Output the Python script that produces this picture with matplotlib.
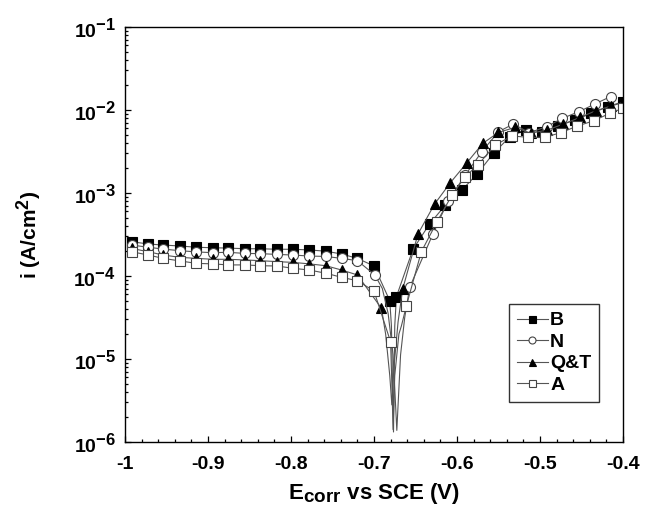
import numpy as np
import matplotlib
matplotlib.use("Agg")
import matplotlib.pyplot as plt
from matplotlib.ticker import FixedLocator, LogLocator, NullFormatter
try:
    import matplotlib._mathtext as _mt
    _mt.SHRINK_FACTOR = 0.85   # larger super/subscripts, as in the original figure
except Exception:
    pass

plt.rcParams['font.family'] = ['Liberation Sans', 'DejaVu Sans']
plt.rcParams['font.weight'] = 'bold'
plt.rcParams['mathtext.fontset'] = 'custom'
plt.rcParams['mathtext.rm'] = 'Liberation Sans:bold'
plt.rcParams['mathtext.bf'] = 'Liberation Sans:bold'
plt.rcParams['mathtext.it'] = 'Liberation Sans:bold'
plt.rcParams['mathtext.default'] = 'bf'

# ---------------- data (E in V vs SCE, i in A/cm^2) ----------------
labels = ["B", "N", "Q&T", "A"]

# B : marker points
B_E = [-0.992, -0.972, -0.954, -0.934, -0.914, -0.894, -0.876, -0.855, -0.837, -0.817,
       -0.798, -0.778, -0.758, -0.739, -0.720, -0.700, -0.681, -0.673, -0.653, -0.633,
       -0.614, -0.594, -0.576, -0.556, -0.536, -0.517, -0.498, -0.478, -0.458, -0.438,
       -0.418, -0.400]
B_i = [2.59e-4, 2.43e-4, 2.36e-4, 2.30e-4, 2.22e-4, 2.19e-4, 2.17e-4, 2.13e-4, 2.13e-4, 2.10e-4,
       2.10e-4, 2.06e-4, 1.99e-4, 1.84e-4, 1.63e-4, 1.32e-4, 5.04e-5, 5.64e-5, 2.10e-4, 4.24e-4,
       7.16e-4, 1.09e-3, 1.68e-3, 3.01e-3, 4.79e-3, 5.74e-3, 5.48e-3, 6.41e-3, 7.59e-3, 9.12e-3,
       1.10e-2, 1.26e-2]
# B : extra line points through the corrosion-potential dip
B_dip_E = [-0.679, -0.6765, -0.675]
B_dip_i = [2.5e-5, 1.32e-6, 2.5e-5]

# N
N_E = [-0.992, -0.972, -0.954, -0.934, -0.914, -0.894, -0.876, -0.855, -0.837, -0.817,
       -0.798, -0.778, -0.758, -0.739, -0.720, -0.699, -0.657, -0.629, -0.611, -0.590,
       -0.570, -0.550, -0.532, -0.513, -0.492, -0.473, -0.453, -0.434, -0.415]
N_i = [2.36e-4, 2.22e-4, 2.11e-4, 2.02e-4, 1.95e-4, 1.91e-4, 1.93e-4, 1.87e-4, 1.86e-4, 1.82e-4,
       1.79e-4, 1.74e-4, 1.72e-4, 1.63e-4, 1.53e-4, 1.03e-4, 7.31e-5, 3.21e-4, 7.94e-4, 1.65e-3,
       3.15e-3, 5.48e-3, 6.78e-3, 5.33e-3, 6.30e-3, 7.94e-3, 9.55e-3, 1.18e-2, 1.45e-2]
N_dip_E = [-0.690, -0.683, -0.677, -0.6725, -0.668, -0.663]
N_dip_i = [7.08e-5, 3.55e-5, 1.12e-5, 1.38e-6, 1.12e-5, 3.16e-5]

# Q&T
Q_E = [-0.992, -0.972, -0.954, -0.934, -0.914, -0.894, -0.876, -0.855, -0.837, -0.817,
       -0.798, -0.778, -0.758, -0.739, -0.720, -0.691, -0.6655, -0.647, -0.627, -0.608,
       -0.588, -0.569, -0.550, -0.530, -0.511, -0.491, -0.472, -0.452, -0.433, -0.414,
       -0.400]
Q_i = [2.15e-4, 1.96e-4, 1.79e-4, 1.68e-4, 1.63e-4, 1.59e-4, 1.59e-4, 1.56e-4, 1.53e-4, 1.49e-4,
       1.46e-4, 1.40e-4, 1.33e-4, 1.18e-4, 1.03e-4, 4.08e-5, 6.92e-5, 3.21e-4, 7.36e-4, 1.33e-3,
       2.32e-3, 3.96e-3, 5.37e-3, 6.17e-3, 5.25e-3, 5.75e-3, 6.76e-3, 8.13e-3, 9.77e-3, 1.12e-2,
       1.23e-2]
Q_dip_E = [-0.686, -0.681, -0.6785, -0.676, -0.671]
Q_dip_i = [2.0e-5, 6.3e-6, 2.8e-6, 7.9e-6, 2.8e-5]

# A
A_E = [-0.992, -0.972, -0.954, -0.934, -0.914, -0.894, -0.876, -0.855, -0.837, -0.817,
       -0.798, -0.778, -0.758, -0.739, -0.720, -0.700, -0.680, -0.661, -0.643, -0.624,
       -0.606, -0.590, -0.575, -0.554, -0.534, -0.514, -0.494, -0.475, -0.455, -0.435,
       -0.416, -0.400]
A_i = [1.96e-4, 1.79e-4, 1.63e-4, 1.52e-4, 1.42e-4, 1.40e-4, 1.36e-4, 1.36e-4, 1.33e-4, 1.32e-4,
       1.24e-4, 1.18e-4, 1.08e-4, 9.64e-5, 8.77e-5, 6.59e-5, 1.61e-5, 4.37e-5, 1.96e-4, 4.51e-4,
       9.46e-4, 1.58e-3, 2.17e-3, 3.78e-3, 4.86e-3, 4.69e-3, 4.69e-3, 5.33e-3, 6.41e-3, 7.43e-3,
       9.12e-3, 1.05e-2]
A_dip_E = [-0.6785, -0.677, -0.675, -0.670, -0.667]
A_dip_i = [5.0e-6, 1.41e-6, 6.3e-6, 2.0e-5, 2.5e-5]

x_ticks = [-1.0, -0.9, -0.8, -0.7, -0.6, -0.5, -0.4]
x_ticklabels = ["-1", "-0.9", "-0.8", "-0.7", "-0.6", "-0.5", "-0.4"]
y_ticks = [1e-6, 1e-5, 1e-4, 1e-3, 1e-2, 1e-1]
y_ticklabels = [r"10$^{-6}$", r"10$^{-5}$", r"10$^{-4}$", r"10$^{-3}$", r"10$^{-2}$", r"10$^{-1}$"]

# ---------------- figure ----------------
fig = plt.figure(figsize=(6.61, 5.15), dpi=100)
ax = fig.add_axes([125/661, 1-442/515, (623-125)/661, (442-27)/515])

styles = [
    dict(marker='s', mfc='black', mec='black', ms=7.2),
    dict(marker='o', mfc='white', mec='#444444', ms=7.2),
    dict(marker='^', mfc='black', mec='black', ms=7.2),
    dict(marker='s', mfc='white', mec='#444444', ms=7.2),
]
series = [(B_E, B_i, B_dip_E, B_dip_i), (N_E, N_i, N_dip_E, N_dip_i),
          (Q_E, Q_i, Q_dip_E, Q_dip_i), (A_E, A_i, A_dip_E, A_dip_i)]

for (E, I, dE, dI), lab, st in zip(series, labels, styles):
    allE = np.array(list(E) + list(dE))
    allI = np.array(list(I) + list(dI))
    order = np.argsort(allE)
    allE, allI = allE[order], allI[order]
    mark_idx = list(np.where(np.isin(allE, np.array(E)))[0])
    ax.plot(allE, allI, color='#555555', lw=0.8, markevery=mark_idx,
            mew=0.8, label=lab, **st)

ax.set_yscale('log')
ax.set_xlim(-1.0, -0.4)
ax.set_ylim(1e-6, 1e-1)

ax.xaxis.set_major_locator(FixedLocator(x_ticks))
ax.set_xticklabels(x_ticklabels)
ax.xaxis.set_minor_locator(FixedLocator(np.arange(-1.0, -0.399, 0.02)))
ax.yaxis.set_major_locator(FixedLocator(y_ticks))
ax.set_yticklabels(y_ticklabels)
ax.yaxis.set_minor_locator(LogLocator(base=10, subs=np.arange(2, 10)))
ax.yaxis.set_minor_formatter(NullFormatter())

ax.tick_params(which='both', direction='in', top=False, right=False, width=0.9)
ax.tick_params(which='major', length=4.5, labelsize=14)
ax.tick_params(axis='x', which='major', pad=10)
ax.tick_params(axis='y', which='major', pad=6.5)
ax.tick_params(which='minor', length=2.5)
for lbl in ax.get_xticklabels() + ax.get_yticklabels():
    lbl.set_fontweight('bold')
for sp in ax.spines.values():
    sp.set_linewidth(1.0)

ax.set_xlabel(r"E$_{\mathbf{corr}}$ vs SCE (V)", fontsize=16, fontweight='bold')
ax.xaxis.set_label_coords(0.5, (442 - 481) / 415)
ax.set_ylabel(r"i (A/cm$^{2}$)", fontsize=15, fontweight='bold')
ax.yaxis.set_label_coords((44 - 125) / 498, 0.5)

leg = ax.legend(loc='upper left', bbox_to_anchor=(0.771, 0.3325), borderaxespad=0,
                fancybox=False, shadow=False, frameon=True, edgecolor='black',
                fontsize=14, handlelength=1.6, handletextpad=0.12, labelspacing=0.2,
                markerscale=0.7, borderpad=0.4)
leg.get_frame().set_linewidth(1.0)
for t in leg.get_texts():
    t.set_fontweight('bold')

fig.savefig("out.png", dpi=100)
